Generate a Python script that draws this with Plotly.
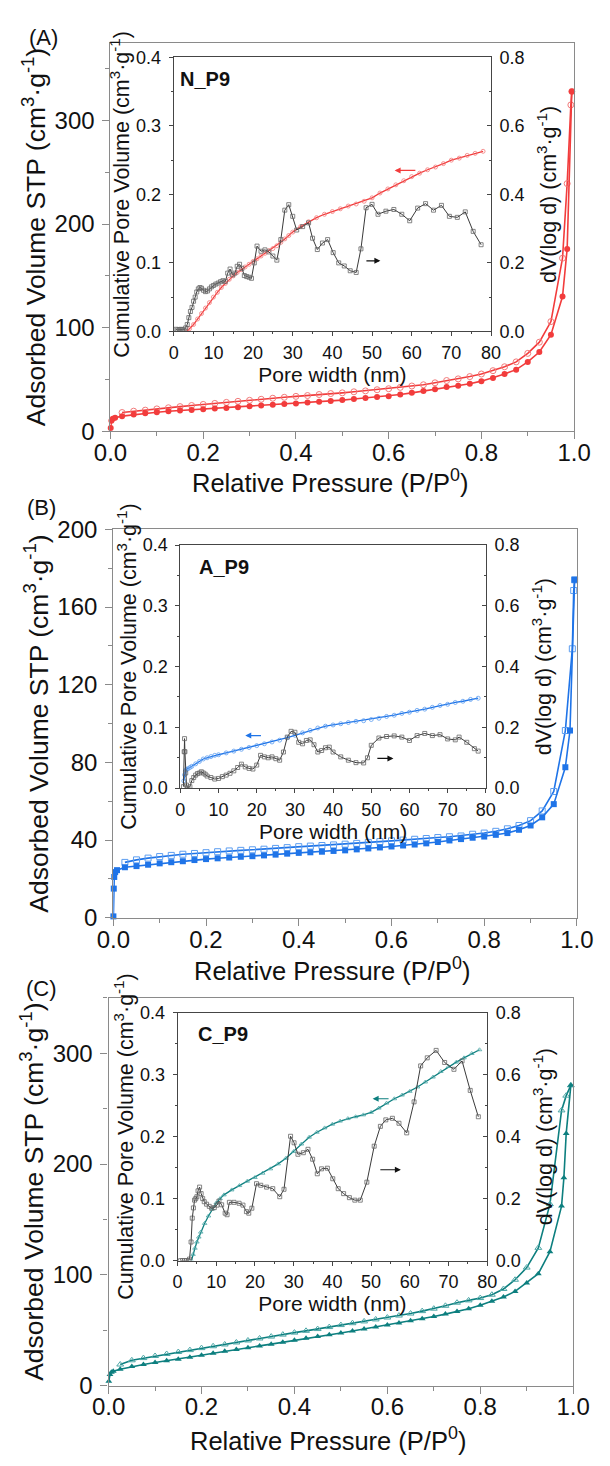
import plotly.graph_objects as go

FONT = "Liberation Sans, Arial, Helvetica, sans-serif"
RED, RED_OPEN = "#f23c3c", "#f27a7a"
BLUE, BLUE_OPEN = "#1f74e8", "#5c9df0"
TEAL, TEAL_OPEN = "#0d7f7f", "#4da7a7"
BLK = "#3a3a3a"
AXIS_GRAY = "#8a8a8a"
AXIS_DARK = "#454545"

# ---------------- data ----------------
P_MID = [0.025, 0.05, 0.075, 0.1, 0.125, 0.15, 0.175, 0.2, 0.225, 0.25,
         0.275, 0.3, 0.325, 0.35, 0.375, 0.4, 0.425, 0.45, 0.475, 0.5,
         0.525, 0.55, 0.575, 0.6, 0.625, 0.65, 0.675, 0.7, 0.725, 0.75,
         0.775, 0.8, 0.825, 0.85, 0.875, 0.9, 0.925, 0.95]
P_MID_DESC = list(reversed(P_MID))

# Panel A (N_P9)
A_ads_p = [0.0005, 0.002, 0.005, 0.01] + P_MID + [0.975, 0.985, 0.995]
A_ads_v = [3, 10, 12, 13,
           14.5, 16, 17.4, 18.3, 19.3, 20, 20.5, 21.2, 21.8, 22.4,
           23.2, 24, 24.8, 25.6, 26.2, 26.8, 27.6, 28.4, 29.2, 30,
           31, 32, 32.9, 33.8, 35.4, 37.0, 38.8, 40.4, 42.6, 43.9,
           45.8, 48.3, 51.4, 55.2, 59.4, 66.9, 76.4, 93.1,
           130, 176, 328]
A_des_p = [0.995, 0.993, 0.985, 0.975] + P_MID_DESC
A_des_v = [328, 315, 239, 167,
           105.8, 85.9, 75.1, 66.9, 62.2, 58.4, 55.2, 52.7, 50.5, 48.9,
           46.7, 44.8, 43.6, 42.3, 41, 40, 38.9, 38, 37, 36.3,
           35.4, 34.4, 33.6, 32.7, 31.8, 30.8, 29.8, 28.8, 27.8, 26.8,
           25.8, 24.8, 23.7, 22.6, 21.5, 20.3, 19.3, 18]

A_cum_w = [3.3, 4, 5, 6, 7, 8, 9, 10, 11, 12, 13, 14, 15, 16, 17, 18, 19, 20,
           21, 22, 23, 24, 25, 26, 27, 28, 29, 30, 32, 34, 36, 38, 40, 42, 44,
           46, 48, 50, 52, 54, 56, 58, 60, 62, 64, 66, 68, 70, 72, 74, 76, 78]
A_cum_v = [0, 0.004, 0.01, 0.018, 0.026, 0.034, 0.042, 0.05, 0.057, 0.064,
           0.07, 0.076, 0.081, 0.086, 0.09, 0.094, 0.098, 0.102, 0.106, 0.11,
           0.114, 0.118, 0.121, 0.125, 0.13, 0.135, 0.14, 0.145, 0.153, 0.16,
           0.166, 0.171, 0.175, 0.179, 0.183, 0.186, 0.19, 0.195, 0.202, 0.208,
           0.214, 0.22, 0.226, 0.231, 0.236, 0.24, 0.245, 0.25, 0.253, 0.257,
           0.26, 0.263]
A_psd_w = [0.6, 1.0, 1.4, 1.8, 2.2, 2.6, 3.0, 3.4, 3.8, 4.2, 4.6, 5.0, 5.4, 5.8,
           6.2, 6.6, 7.0, 7.5, 8.0, 8.5, 9.0, 9.5, 10.0, 10.6, 11.2, 11.8, 12.4,
           13.0, 13.6, 14.2, 14.8, 15.4, 16.0, 16.6, 17.2, 17.8, 18.4, 19.0,
           19.6, 20.3, 21.0, 22.0, 23.0, 24.0, 25.0, 26.0, 27.0, 28.0, 29.0,
           30.0, 31.0, 32.5, 34.0, 35.0, 36.2, 37.5, 38.8, 40.2, 41.6, 43.0,
           44.5, 46.0, 47.2, 48.5, 50.0, 51.5, 53.5, 55.5, 57.5, 59.5, 61.5,
           63.5, 65.5, 67.5, 69.5, 71.5, 73.5, 75.5, 77.5]
A_psd_v = [0.006, 0.004, 0.005, 0.006, 0.005, 0.004, 0.01, 0.02, 0.04, 0.058,
           0.07, 0.088, 0.1, 0.115, 0.124, 0.128, 0.126, 0.12, 0.116, 0.118,
           0.124, 0.13, 0.134, 0.138, 0.141, 0.145, 0.148, 0.146, 0.17, 0.182,
           0.165, 0.17, 0.19, 0.196, 0.184, 0.163, 0.16, 0.158, 0.155, 0.2,
           0.249, 0.234, 0.238, 0.232, 0.22, 0.208, 0.268, 0.354, 0.37, 0.336,
           0.296, 0.306, 0.317, 0.272, 0.239, 0.258, 0.268, 0.23, 0.2, 0.191,
           0.177, 0.172, 0.241, 0.361, 0.371, 0.342, 0.351, 0.356, 0.342, 0.323,
           0.36, 0.373, 0.354, 0.368, 0.336, 0.333, 0.349, 0.292, 0.253]

# Panel B (A_P9)
B_ads_p = [0.0002, 0.001, 0.002, 0.004, 0.008] + P_MID + [0.975, 0.985, 0.995]
B_ads_v = [0.7, 15, 21, 23.5, 24.5,
           26, 26.6, 27.3, 28, 28.6, 29.1, 29.7, 30.2, 30.6, 31,
           31.4, 31.7, 32.1, 32.5, 33, 33.4, 33.7, 34, 34.4, 34.7,
           35.2, 35.7, 36.2, 36.7, 37.2, 37.7, 38.3, 39, 39.8, 40.5,
           41.2, 41.8, 42.7, 43.6, 45.3, 47.5, 51.7, 58.5,
           77.5, 96.4, 174]
B_des_p = [0.995, 0.993, 0.99, 0.975] + P_MID_DESC
B_des_v = [174, 168.5, 138.5, 96.4,
           65, 55, 50, 47.5, 45.8, 44.5, 43.6, 43, 42.1, 41.7,
           41.3, 40.8, 40.4, 40, 39.6, 39.2, 38.8, 38.3, 37.9, 37.5,
           37.2, 36.9, 36.6, 36.1, 35.7, 35.3, 35, 34.7, 34.4, 34,
           33.5, 33.1, 32.7, 32.1, 31.5, 30.7, 29.8, 28.5]

B_cum_w = [0.9, 1.1, 1.3, 1.6, 2, 2.5, 3, 4, 5, 6, 7, 8, 9, 10, 12, 14, 16, 18,
           20, 22, 24, 26, 28, 30, 32, 34, 36, 38, 40, 42, 44, 46, 48, 50, 52,
           54, 56, 58, 60, 62, 64, 66, 68, 70, 72, 74, 76, 78]
B_cum_v = [0.012, 0.022, 0.028, 0.031, 0.032, 0.034, 0.036, 0.04, 0.044, 0.048,
           0.05, 0.052, 0.054, 0.055, 0.058, 0.061, 0.064, 0.067, 0.07, 0.073,
           0.076, 0.079, 0.083, 0.087, 0.091, 0.095, 0.099, 0.102, 0.104, 0.106,
           0.108, 0.11, 0.111, 0.113, 0.115, 0.118, 0.12, 0.123, 0.125, 0.128,
           0.13, 0.133, 0.136, 0.138, 0.141, 0.143, 0.146, 0.148]
B_psd_w = [0.8, 1.0, 1.1, 1.2, 1.4, 1.6, 2.0, 2.5, 3.0, 3.5, 4.0, 4.5, 5.0, 5.5,
           6.0, 6.5, 7.0, 8.0, 9.0, 10.0, 11.0, 12.0, 13.0, 14.0, 15.0, 16.0,
           17.0, 18.0, 19.0, 20.0, 21.0, 22.0, 23.0, 24.0, 25.0, 26.0, 27.0,
           28.0, 29.0, 30.0, 31.0, 32.0, 33.0, 34.0, 35.0, 36.0, 37.0, 38.0,
           39.0, 40.0, 42.0, 44.0, 46.0, 48.0, 49.0, 50.0, 52.0, 54.0, 56.0,
           58.0, 60.0, 62.0, 64.0, 66.0, 68.0, 70.0, 72.0, 73.0, 75.0, 77.0,
           78.0]
B_psd_v = [0.005, 0.12, 0.163, 0.12, 0.05, 0.01, 0.0, 0.005, 0.025, 0.035,
           0.043, 0.048, 0.05, 0.054, 0.05, 0.046, 0.04, 0.035, 0.03, 0.032,
           0.038, 0.043, 0.049, 0.057, 0.068, 0.079, 0.07, 0.065, 0.063, 0.076,
           0.108, 0.103, 0.1, 0.103, 0.097, 0.092, 0.119, 0.168, 0.187, 0.184,
           0.151, 0.146, 0.157, 0.159, 0.143, 0.119, 0.124, 0.133, 0.135, 0.119,
           0.103, 0.092, 0.084, 0.083, 0.1, 0.141, 0.165, 0.17, 0.172, 0.168,
           0.157, 0.173, 0.18, 0.173, 0.176, 0.162, 0.159, 0.168, 0.151, 0.13,
           0.122]

# Panel C (C_P9)
C_ads_p = [0.0005, 0.003, 0.006, 0.01] + P_MID + [0.975, 0.98, 0.985, 0.995]
C_ads_v = [4, 10, 12, 13,
           14.8, 17.2, 19, 20.8, 22.3, 23.7, 25.5, 27.3, 29.1, 30.9,
           32.5, 34.1, 35.8, 37.4, 39.2, 41, 42.6, 44.2, 45.9, 47.5,
           49.2, 51, 52.8, 54.6, 56.5, 58.5, 60.4, 62.3, 64.5, 66.8,
           69.4, 72.4, 76, 80, 85, 92.6, 101, 120.8,
           162, 187.5, 227.6, 271]
C_des_p = [0.995, 0.985, 0.975] + P_MID_DESC
C_des_v = [271, 261.7, 248.4,
           163.8, 124.3, 106.5, 95.5, 87.2, 82, 79, 76.9, 74.8, 72,
           69.4, 67.2, 65, 63.2, 61.4, 59.7, 57.9, 56.3, 54.6, 52.8,
           51, 49.4, 47.8, 46, 44.2, 42.5, 40.7, 38.9, 37.1, 35.5,
           33.8, 32, 30.3, 28.5, 26.7, 24.8, 22.8, 19]

C_cum_w = [3.6, 4, 4.5, 5, 5.5, 6, 7, 8, 9, 10, 11, 12, 14, 16, 18, 20, 22, 24,
           26, 28, 30, 32, 34, 36, 38, 40, 42, 44, 46, 48, 50, 52, 54, 56, 58,
           60, 62, 64, 66, 68, 70, 72, 74, 76, 78]
C_cum_v = [0, 0.01, 0.02, 0.03, 0.038, 0.046, 0.06, 0.072, 0.083, 0.093, 0.1,
           0.106, 0.114, 0.121, 0.128, 0.134, 0.141, 0.148, 0.156, 0.165, 0.176,
           0.188, 0.199, 0.207, 0.214, 0.22, 0.225, 0.229, 0.232, 0.235, 0.239,
           0.246, 0.254, 0.261, 0.267, 0.273, 0.28, 0.288, 0.296, 0.305, 0.313,
           0.32, 0.327, 0.334, 0.34]
C_psd_w = [0.8, 1.3, 1.8, 2.3, 2.8, 3.1, 3.5, 3.8, 4.1, 4.4, 4.7, 5.0, 5.3, 5.7,
           6.1, 6.5, 6.9, 7.5, 8.2, 8.8, 9.5, 10.2, 10.7, 11.4, 12.3, 12.8,
           13.4, 14.6, 15.9, 16.9, 17.8, 18.4, 19.2, 20.4, 21.5, 23.0, 24.6,
           26.4, 27.5, 29.2, 30.1, 31.1, 32.5, 33.7, 34.9, 36.1, 37.2, 38.7,
           40.1, 41.5, 42.9, 44.4, 45.8, 47.2, 48.9, 50.8, 52.4, 53.8, 55.5,
           57.2, 59.2, 61.1, 62.8, 64.5, 66.8, 69.0, 71.4, 73.5, 75.6, 77.7]
C_psd_v = [0.0, 0.0, 0.0, 0.0, 0.0, 0.005, 0.06, 0.137, 0.17, 0.195, 0.2, 0.206,
           0.225, 0.237, 0.216, 0.2, 0.19, 0.182, 0.175, 0.169, 0.171, 0.179,
           0.192, 0.18, 0.153, 0.148, 0.188, 0.188, 0.185, 0.179, 0.158, 0.153,
           0.169, 0.248, 0.243, 0.237, 0.232, 0.206, 0.23, 0.401, 0.38, 0.343,
           0.348, 0.359, 0.327, 0.28, 0.296, 0.298, 0.264, 0.232, 0.216, 0.203,
           0.195, 0.195, 0.253, 0.369, 0.433, 0.454, 0.459, 0.443, 0.412, 0.512,
           0.628, 0.654, 0.678, 0.639, 0.617, 0.644, 0.549, 0.464]

PANELS = [
    dict(label="(A)", name="N_P9", color=RED, ocolor=RED_OPEN,
         sym="circle", isym="circle-open",
         ads=(A_ads_p, A_ads_v), des=(A_des_p, A_des_v),
         cum=(A_cum_w, A_cum_v), psd=(A_psd_w, A_psd_v),
         ymax=375, ydt=100, ymin_dt=50,
         main_x=[99, 590], main_y=[29.3, 425],
         ins_x=[166, 502], ins_y=[44.3, 323.3],
         label_xy=(28, 24), name_xy=(171, 66), xtitle_xy=(331, 476),
         carrow=((55.7, 0.235), (61.3, 0.235)),
         parrow=((52.1, 0.103), (48.2, 0.103))),
    dict(label="(B)", name="A_P9", color=BLUE, ocolor=BLUE_OPEN,
         sym="square", isym="circle-open",
         ads=(B_ads_p, B_ads_v), des=(B_des_p, B_des_v),
         cum=(B_cum_w, B_cum_v), psd=(B_psd_w, B_psd_v),
         ymax=200, ydt=40, ymin_dt=20,
         main_x=[102, 593], main_y=[525, 920.7],
         ins_x=[173, 496.5], ins_y=[541, 788.7],
         label_xy=(26, 503), name_xy=(190.5, 563), xtitle_xy=(334, 973),
         carrow=((17.0, 0.0866), (21.5, 0.0866)),
         parrow=((55.8, 0.049), (51.2, 0.049))),
    dict(label="(C)", name="C_P9", color=TEAL, ocolor=TEAL_OPEN,
         sym="triangle-up", isym="triangle-up-open",
         ads=(C_ads_p, C_ads_v), des=(C_des_p, C_des_v),
         cum=(C_cum_w, C_cum_v), psd=(C_psd_w, C_psd_v),
         ymax=350, ydt=100, ymin_dt=50,
         main_x=[97, 589], main_y=[1002.3, 1397.3],
         ins_x=[170, 498], ins_y=[1017.3, 1270],
         label_xy=(26, 993), name_xy=(189.3, 1039), xtitle_xy=(329, 1452),
         carrow=((50.4, 0.261), (54.9, 0.261)),
         parrow=((57.7, 0.1465), (52.0, 0.1465))),
]

W, H = 610, 1466


def xd(px):
    return [px[0] / W, px[1] / W]


def yd(py):
    return [1 - py[1] / H, 1 - py[0] / H]


fig = go.Figure()
layout = dict(width=W, height=H, margin=dict(l=0, r=0, t=0, b=0),
              paper_bgcolor="white", plot_bgcolor="rgba(0,0,0,0)",
              showlegend=False, font=dict(family=FONT, color="#111111"),
              annotations=[])

SUP = "(cm<sup>3</sup>·g<sup>-1</sup>)"
X_TITLE = "Relative Pressure (P/P<sup>0</sup>)"

for i, pn in enumerate(PANELS):
    mx = "x" if i == 0 else f"x{2 * i + 1}"
    ix = f"x{2 * i + 2}"
    my = "y" if i == 0 else f"y{3 * i + 1}"
    iy = f"y{3 * i + 2}"
    iy2 = f"y{3 * i + 3}"
    key = lambda a: a[0] + "axis" + a[1:]

    # main axes
    layout[key(mx)] = dict(
        domain=xd(pn["main_x"]), anchor=my, range=[0, 1], dtick=0.2,
        tickformat=".1f", showline=True, linecolor=AXIS_GRAY, linewidth=1.2,
        mirror=True, ticks="outside", ticklen=7, tickwidth=1.2,
        tickcolor=AXIS_GRAY, showgrid=False, zeroline=False,
        minor=dict(dtick=0.1, ticklen=4, ticks="outside", tickcolor=AXIS_GRAY,
                   tickwidth=1.2),
        tickfont=dict(size=24), ticklabelstandoff=-7)
    layout[key(my)] = dict(
        domain=yd(pn["main_y"]), anchor=mx, range=[0, pn["ymax"]],
        dtick=pn["ydt"], showline=True, linecolor=AXIS_GRAY, linewidth=1.2,
        mirror=True, ticks="outside", ticklen=7, tickwidth=1.2,
        tickcolor=AXIS_GRAY, showgrid=False, zeroline=False,
        minor=dict(dtick=pn["ymin_dt"], ticklen=4, ticks="outside",
                   tickcolor=AXIS_GRAY, tickwidth=1.2),
        tickfont=dict(size=24), ticklabelstandoff=3,
        title=dict(text="Adsorbed Volume STP " + SUP, font=dict(size=26.5),
                   standoff=1))
    # inset axes
    layout[key(ix)] = dict(
        domain=xd(pn["ins_x"]), anchor=iy, range=[0, 80], dtick=10,
        showline=True, linecolor=AXIS_DARK, linewidth=1, mirror=True,
        ticks="outside", ticklen=4, tickcolor=AXIS_DARK, showgrid=False,
        zeroline=False,
        minor=dict(dtick=5, ticklen=2, ticks="outside", tickcolor=AXIS_DARK),
        tickfont=dict(size=18), ticklabelstandoff=1,
        title=dict(text="Pore width (nm)", font=dict(size=21), standoff=3))
    layout[key(iy)] = dict(
        domain=yd(pn["ins_y"]), anchor=ix, range=[0, 0.4], dtick=0.1,
        tickformat=".1f", showline=True, linecolor=AXIS_DARK, linewidth=1,
        ticks="outside", ticklen=4, tickcolor=AXIS_DARK, showgrid=False,
        zeroline=False,
        minor=dict(dtick=0.05, ticklen=2, ticks="outside", tickcolor=AXIS_DARK),
        tickfont=dict(size=18), ticklabelstandoff=4,
        title=dict(text="Cumulative Pore Volume " + SUP, font=dict(size=21.5),
                   standoff=0))
    layout[key(iy2)] = dict(
        overlaying=iy, anchor=ix, side="right", range=[0, 0.8], dtick=0.2,
        tickformat=".1f", showline=True, linecolor=AXIS_DARK, linewidth=1,
        ticks="inside", ticklen=4, tickcolor=AXIS_DARK, showgrid=False,
        zeroline=False,
        minor=dict(dtick=0.1, ticklen=2, ticks="inside", tickcolor=AXIS_DARK),
        tickfont=dict(size=18), ticklabelstandoff=4,
        title=dict(text="dV(log d) " + SUP, font=dict(size=21.5), standoff=17))

    c, oc = pn["color"], pn["ocolor"]
    # main isotherm: desorption (open) then adsorption (filled)
    fig.add_trace(go.Scatter(
        x=pn["des"][0], y=pn["des"][1], xaxis=mx, yaxis=my,
        mode="lines+markers", line=dict(color=c, width=1.6),
        marker=dict(symbol=pn["sym"] + "-open", size=6, color=oc,
                    line=dict(width=1, color=oc)), cliponaxis=False))
    fig.add_trace(go.Scatter(
        x=pn["ads"][0], y=pn["ads"][1], xaxis=mx, yaxis=my,
        mode="lines+markers", line=dict(color=c, width=1.6),
        marker=dict(symbol=pn["sym"], size=6, color=c), cliponaxis=False))
    # inset: cumulative pore volume (left) and PSD (right)
    fig.add_trace(go.Scatter(
        x=pn["cum"][0], y=pn["cum"][1], xaxis=ix, yaxis=iy,
        mode="lines+markers", line=dict(color=c, width=1.3),
        marker=dict(symbol=pn["isym"], size=4, color=oc,
                    line=dict(width=0.8, color=oc))))
    fig.add_trace(go.Scatter(
        x=pn["psd"][0], y=pn["psd"][1], xaxis=ix, yaxis=iy2,
        mode="lines+markers", line=dict(color=BLK, width=1),
        marker=dict(symbol="square-open", size=4, color="#666666",
                    line=dict(width=0.8, color="#666666"))))

    # main x-axis title (placed as text under the tick labels)
    layout["annotations"].append(dict(
        text=X_TITLE, xref="paper", yref="paper",
        x=pn["xtitle_xy"][0] / W, y=1 - pn["xtitle_xy"][1] / H,
        xanchor="center", yanchor="middle", showarrow=False,
        font=dict(size=25.5, color="#111111")))
    # panel label and sample name
    layout["annotations"].append(dict(
        text=pn["label"], xref="paper", yref="paper",
        x=pn["label_xy"][0] / W, y=1 - pn["label_xy"][1] / H,
        xanchor="center", yanchor="middle", showarrow=False,
        font=dict(size=22, color="#111111")))
    layout["annotations"].append(dict(
        text="<b>" + pn["name"] + "</b>", xref="paper", yref="paper",
        x=pn["name_xy"][0] / W, y=1 - pn["name_xy"][1] / H,
        xanchor="left", yanchor="middle", showarrow=False,
        font=dict(size=20, color="#111111")))
    # arrows (head, tail) in inset data units (left axis)
    for (head, tail), acol in ((pn["carrow"], c), (pn["parrow"], "#111111")):
        layout["annotations"].append(dict(
            x=head[0], y=head[1], ax=tail[0], ay=tail[1],
            xref=ix, yref=iy, axref=ix, ayref=iy, text="", showarrow=True,
            arrowhead=2, arrowsize=1, arrowwidth=1.2, arrowcolor=acol))

fig.update_layout(**layout)
fig.write_html(
    "out.html",
    config={"displayModeBar": False},
    post_script="document.body.style.margin='0';"
                "document.body.style.padding='0';"
                "document.documentElement.style.overflow='hidden';")
